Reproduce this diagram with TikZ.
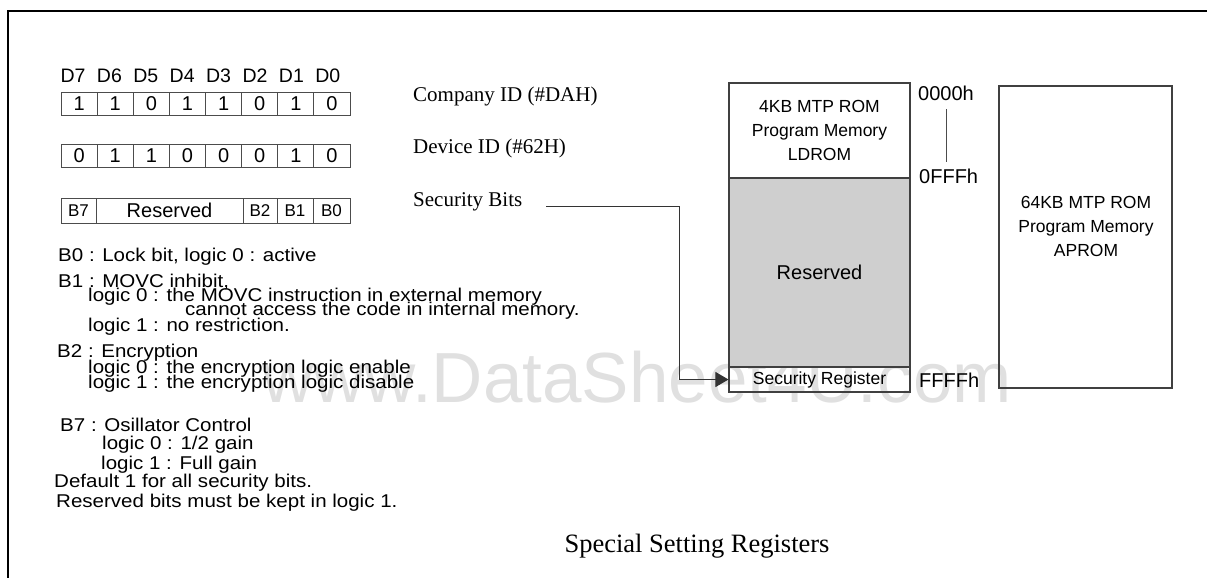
\documentclass[tikz,border=0pt]{standalone}
\usepackage{fontspec}
\setmainfont{Liberation Sans}
\newfontfamily\tnr{Liberation Serif}
\newfontfamily\widesans[FakeStretch=1.11]{Liberation Sans}
\usetikzlibrary{arrows.meta}

\tikzset{
	bitcell/.style={draw=black!70, line width=0.9pt, minimum width=36.1pt, minimum height=23pt, inner sep=0pt, font=\fontsize{20}{20}\selectfont},
	bitname/.style={draw=black!70, line width=0.9pt, minimum height=25pt, inner sep=0pt, font=\fontsize{17}{17}\selectfont},
	note/.style={anchor=base west, inner sep=0pt, font=\widesans\fontsize{18.5}{18.5}\selectfont},
	idlabel/.style={anchor=base west, inner sep=0pt, font=\tnr\fontsize{21}{21}\selectfont},
	membox/.style={draw=black!75, line width=1.1pt, inner sep=0pt, minimum width=181pt},
	memtext/.style={align=center, inner sep=0pt, font=\fontsize{17.5}{24}\selectfont},
	addr/.style={anchor=base west, inner sep=0pt, font=\fontsize{20}{20}\selectfont},
}

\begin{document}
\begin{tikzpicture}[x=1pt, y=-1pt]
			%%%%% START %%%%%
			\useasboundingbox (0,0) rectangle (1207,578);
			
			\draw[line width=2pt] (8,578) -- (8,11) -- (1207,11);
			
			\node[anchor=base, inner sep=0pt, text=black!12, font=\fontsize{71}{71}\selectfont] (wmark) at (637,402) {www.DataSheet4U.com};
			
			% register bits
			\foreach \d [count=\i from 0] in {7,6,5,4,3,2,1,0}
				\node[anchor=base, inner sep=0pt, font=\fontsize{19.5}{19.5}\selectfont] (hd\d) at ({73+36.4*\i},82) {D\d};
			
			\foreach \b [count=\i] in {1,1,0,1,1,0,1,0}
				\node[bitcell] (cid\i) at ({61+36.125*(\i-0.5)},103.5) {\b};
			
			\foreach \b [count=\i] in {0,1,1,0,0,0,1,0}
				\node[bitcell] (did\i) at ({61+36.125*(\i-0.5)},156) {\b};
			
			\node[bitname, minimum width=35pt] (sb7) at (78.5,210.5) {B7};
			\node[bitname, minimum width=147pt, font=\fontsize{20}{20}\selectfont] (sbres) at (169.5,210.5) {Reserved};
			\node[bitname, minimum width=34pt] (sb2) at (260,210.5) {B2};
			\node[bitname, minimum width=36pt] (sb1) at (295,210.5) {B1};
			\node[bitname, minimum width=37pt] (sb0) at (331.5,210.5) {B0};
			
			% notes
			\node[note] (nb0) at (58,261) {B0 : Lock bit, logic 0 : active};
			\node[note] (nb1) at (58,287) {B1 : MOVC inhibit,};
			\node[note] (nb1a) at (88,301.5) {logic 0 : the MOVC instruction in external memory};
			\node[note] (nb1b) at (185,315.5) {cannot access the code in internal memory.};
			\node[note] (nb1c) at (88,331) {logic 1 : no restriction.};
			\node[note] (nb2) at (57,357.5) {B2 : Encryption};
			\node[note] (nb2a) at (88,373) {logic 0 : the encryption logic enable};
			\node[note] (nb2b) at (88,388) {logic 1 : the encryption logic disable};
			\node[note] (nb7) at (60,431) {B7 : Osillator Control};
			\node[note] (nb7a) at (102,449) {logic 0 : 1/2 gain};
			\node[note] (nb7b) at (101,469) {logic 1 : Full gain};
			\node[note] (ndef) at (54,487) {Default 1 for all security bits.};
			\node[note] (nres) at (56,507) {Reserved bits must be kept in logic 1.};
			
			% id labels
			\node[idlabel] (compid) at (413,101) {Company ID (\#DAH)};
			\node[idlabel] (devid) at (413,153) {Device ID (\#62H)};
			\node[idlabel] (secbits) at (413,206) {Security Bits};
			
			% memory map
			\node[membox, minimum height=95pt, memtext] (ldrom) at (819.5,130.5) {4KB MTP ROM\\Program Memory\\LDROM};
			\node[membox, minimum height=189pt, fill=black!19, font=\fontsize{20}{20}\selectfont] (resv) at (819.5,272.5) {Reserved};
			\node[membox, minimum height=25pt, font=\fontsize{17.5}{17.5}\selectfont] (secreg) at (819.5,379.5) {Security Register};
			\node[membox, minimum width=173pt, minimum height=302pt] (aprom) at (1085.5,237) {};
			\node[memtext] (apromtxt) at (1086,226) {64KB MTP ROM\\Program Memory\\APROM};
			
			\node[addr] (a0000) at (918,100) {0000h};
			\node[addr] (a0fff) at (919,183) {0FFFh};
			\node[addr] (affff) at (919,387) {FFFFh};
			\coordinate (tickend) at ([yshift=6.5pt]a0fff.north);
			\draw[line width=1pt, black!70] ([yshift=-9pt]a0000.south) -- (tickend -| a0000.south);
			
			\coordinate (sbstart) at (546,206.7);
			\coordinate (sbturn) at (679,206.7);
			\draw[line width=1pt, black!80, -{Triangle[length=13pt, width=15pt]}] (sbstart) -- (sbturn) |- (secreg.west);
			
			\node[anchor=base, inner sep=0pt, font=\tnr\fontsize{26.5}{26.5}\selectfont] (title) at (697,552) {Special Setting Registers};
			
			%%%%% END %%%%%
		\end{tikzpicture}
\end{document}
